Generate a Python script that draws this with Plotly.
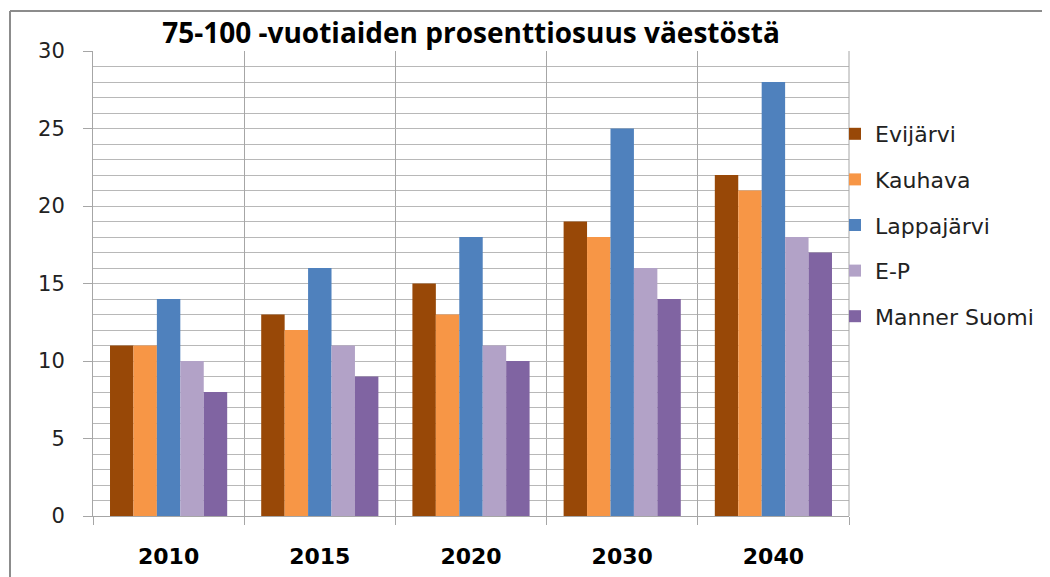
import plotly.graph_objects as go

years = ["2010", "2015", "2020", "2030", "2040"]
evijarvi = [11, 13, 15, 19, 22]
kauhava = [11, 12, 13, 18, 21]
lappajarvi = [14, 16, 18, 25, 28]
ep = [10, 11, 11, 16, 18]
manner_suomi = [8, 9, 10, 14, 17]

series = [
    ("Evijärvi", evijarvi, "#984807"),
    ("Kauhava", kauhava, "#F79646"),
    ("Lappajärvi", lappajarvi, "#4F81BD"),
    ("E-P", ep, "#B2A2C7"),
    ("Manner Suomi", manner_suomi, "#8064A2"),
]

W, H = 1050, 577
OFF = 8  # page body margin
L, R, T, B = 93 - OFF, 849 - OFF, 51 - OFF, 516 - OFF

fig = go.Figure()
for name, vals, col in series:
    fig.add_trace(go.Bar(
        x=years, y=vals, name=name, legendgroup=name,
        marker=dict(color=col, line=dict(width=0)),
    ))

font = "Open Sans, Noto Sans, sans-serif"
wfont = "DejaVu Sans, Open Sans, sans-serif"

def px2x(px):
    return (px - OFF - L) / (R - L)

def py2y(py):
    return (B - (py - OFF)) / (B - T)

fig.update_layout(
    width=W, height=H,
    margin=dict(l=L, r=W - R, t=T, b=H - B, autoexpand=False),
    paper_bgcolor="white", plot_bgcolor="white",
    barmode="group", bargap=0.225, bargroupgap=0,
    title=dict(text="<b>75-100 -vuotiaiden prosenttiosuus väestöstä</b>",
               x=(471 - OFF) / W, xref="container", xanchor="center",
               y=1 - (33 - OFF) / H, yref="container", yanchor="middle",
               font=dict(family=font, size=28, color="black")),
    font=dict(family=wfont, color="#222"),
    legend=dict(x=px2x(835), xanchor="left", y=py2y(113), yanchor="top",
                font=dict(family=wfont, size=22, color="#222"),
                traceorder="grouped", tracegroupgap=14,
                bgcolor="rgba(0,0,0,0)"),
    xaxis=dict(type="category", tickson="boundaries", showgrid=True,
               gridcolor="#a6a6a6", gridwidth=1,
               ticks="outside", ticklen=8, tickcolor="#a6a6a6",
               showline=True, linecolor="#a6a6a6", linewidth=1,
               tickfont=dict(family=wfont, size=22, color="black", weight="bold"),
               ticklabelstandoff=21, mirror=False),
    yaxis=dict(range=[0, 30], dtick=5, showgrid=True, gridcolor="#b8b8b8",
               ticks="outside", ticklen=9, tickcolor="#a6a6a6",
               showline=True, linecolor="#a6a6a6", linewidth=1,
               tickfont=dict(family=wfont, size=21, color="#222"),
               ticklabelstandoff=14, zeroline=False,
               minor=dict(dtick=1, showgrid=True, gridcolor="#b8b8b8", ticks="")),
    shapes=[
        dict(type="line", xref="paper", yref="paper",
             x0=px2x(10), x1=px2x(10), y0=py2y(11), y1=py2y(600),
             line=dict(color="#8c8c8c", width=2)),
        dict(type="line", xref="paper", yref="paper",
             x0=px2x(10), x1=px2x(1070), y0=py2y(11), y1=py2y(11),
             line=dict(color="#8c8c8c", width=2)),
        dict(type="line", xref="paper", yref="paper",
             x0=1, x1=1, y0=0, y1=1,
             line=dict(color="#a6a6a6", width=1)),
    ],
)

fig.write_html("out.html")
